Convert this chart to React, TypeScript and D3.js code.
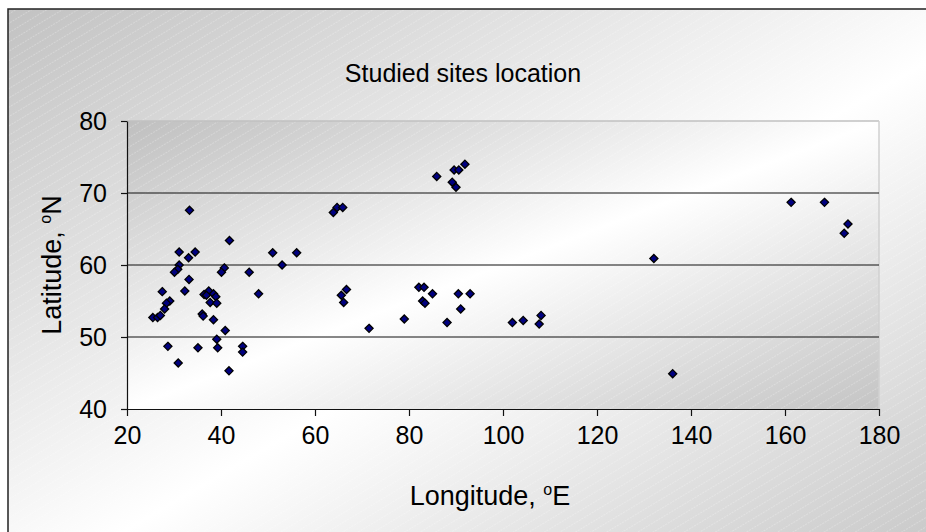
import React, { useEffect, useRef } from 'react';
import * as d3 from 'd3';

// sites: longitude (°E) and latitude (°N)
const lon = [
  33.3, 41.8, 31.1, 34.5, 33.1, 31.1, 30.8, 30.1, 33.2, 40.7, 40.1, 51.0, 56.1, 53.0, 46.0,
  27.5, 32.3, 37.4, 36.4, 38.4, 38.9, 37.7, 39.1, 36.9, 48.0, 29.1, 28.4, 28.0, 25.5, 26.5,
  27.1, 36.0, 36.2, 38.4, 40.9, 39.1, 39.3, 28.7, 35.1, 44.6, 44.6, 30.9, 41.7,
  63.9, 64.7, 65.9, 85.9, 89.6, 90.6, 91.9, 89.2, 90.0,
  66.7, 65.6, 66.1, 71.5, 79.0, 82.1, 83.2, 85.0, 82.9, 83.4, 88.1, 90.5, 93.0, 91.0,
  102.0, 104.3, 108.1, 107.7, 132.1, 136.1, 161.3, 168.4, 173.4, 172.6,
];
const lat = [
  67.6, 63.4, 61.8, 61.8, 61.0, 60.0, 59.4, 59.0, 58.0, 59.6, 59.0, 61.7, 61.7, 60.0, 59.0,
  56.3, 56.4, 56.4, 55.9, 56.0, 55.6, 54.8, 54.7, 55.8, 56.0, 55.0, 54.7, 53.9, 52.7, 52.7,
  53.0, 53.2, 52.9, 52.4, 50.9, 49.7, 48.5, 48.7, 48.5, 48.7, 47.9, 46.4, 45.3,
  67.3, 68.0, 68.0, 72.3, 73.2, 73.2, 74.0, 71.5, 70.8,
  56.6, 55.8, 54.8, 51.2, 52.5, 56.9, 56.9, 56.0, 55.0, 54.7, 52.0, 56.0, 56.0, 53.9,
  52.0, 52.3, 53.0, 51.8, 60.9, 44.9, 68.7, 68.7, 65.7, 64.4,
];
const xTicks = [20, 40, 60, 80, 100, 120, 140, 160, 180];
const yTicks = [40, 50, 60, 70, 80];
const gridLat = [50, 60, 70];

const W = 926;
const H = 532;
const FONT = '"Liberation Sans", Arial, sans-serif';

export default function App() {
  const svgRef = useRef<SVGSVGElement>(null);

  useEffect(() => {
    if (!svgRef.current) return;
    const svg = d3.select(svgRef.current);
    svg.selectAll('*').remove();

    const x = d3.scaleLinear().domain([20, 180]).range([127, 879]);
    const y = d3.scaleLinear().domain([40, 80]).range([409, 121]);

    const defs = svg.append('defs');
    const grad = (id: string, c0: string, c1: string) => {
      const g = defs.append('linearGradient').attr('id', id)
        .attr('x1', 0).attr('y1', 0).attr('x2', 1).attr('y2', 1);
      g.append('stop').attr('offset', '0%').attr('stop-color', c0);
      g.append('stop').attr('offset', '50%').attr('stop-color', '#ffffff');
      g.append('stop').attr('offset', '100%').attr('stop-color', c1);
    };
    grad('outerBg', '#c2c2c2', '#bdbdbd');
    grad('plotBg', '#bfbfbf', '#c4c4c4');

    const pat = defs.append('pattern').attr('id', 'hatch')
      .attr('patternUnits', 'userSpaceOnUse')
      .attr('width', 12).attr('height', 8)
      .attr('patternTransform', 'rotate(-31)');
    pat.append('line').attr('x1', 0).attr('x2', 12).attr('y1', 0.5).attr('y2', 0.5)
      .attr('stroke', '#ffffff').attr('stroke-opacity', 0.35).attr('stroke-width', 0.7)
      .attr('stroke-dasharray', '2,1');

    // chart area (its right and bottom edges fall outside the picture)
    svg.append('rect').attr('x', 8).attr('y', 9).attr('width', 1010).attr('height', 590)
      .attr('fill', 'url(#outerBg)');
    svg.append('rect').attr('x', 8).attr('y', 9).attr('width', 1010).attr('height', 590)
      .attr('fill', 'url(#hatch)').attr('stroke', '#222').attr('stroke-width', 1.5);

    // plot area
    svg.append('rect').attr('x', x(20)).attr('y', y(80))
      .attr('width', x(180) - x(20)).attr('height', y(40) - y(80))
      .attr('fill', 'url(#plotBg)');
    svg.append('rect').attr('x', x(20)).attr('y', y(80))
      .attr('width', x(180) - x(20)).attr('height', y(40) - y(80))
      .attr('fill', 'url(#hatch)');
    svg.append('line').attr('x1', x(20)).attr('x2', x(180)).attr('y1', y(80)).attr('y2', y(80))
      .attr('stroke', '#c0c0c0').attr('stroke-width', 1.5);
    svg.append('line').attr('x1', x(180)).attr('x2', x(180)).attr('y1', y(80)).attr('y2', y(40))
      .attr('stroke', '#d0d0d0').attr('stroke-width', 1.5);

    svg.append('g').selectAll('line').data(gridLat).enter().append('line')
      .attr('x1', x(20)).attr('x2', x(180))
      .attr('y1', (d) => y(d)).attr('y2', (d) => y(d))
      .attr('stroke', '#111').attr('stroke-width', 1);

    // axes
    const yAxis = svg.append('g').attr('transform', `translate(${x(20)},0)`)
      .call(d3.axisLeft(y).tickValues(yTicks).tickSize(6).tickSizeOuter(0).tickPadding(14));
    const xAxis = svg.append('g').attr('transform', `translate(0,${y(40)})`)
      .call(d3.axisBottom(x).tickValues(xTicks).tickSize(7).tickSizeOuter(0).tickPadding(10));
    [yAxis, xAxis].forEach((a) => {
      a.select('.domain').attr('stroke', '#111').attr('stroke-width', 1.2);
      a.selectAll('.tick line').attr('stroke', '#111').attr('stroke-width', 1.2);
      a.selectAll('.tick text').attr('fill', '#000')
        .style('font-family', FONT).style('font-size', '25px');
    });

    // markers
    const diamond = d3.symbol().type(d3.symbolDiamond2).size(42);
    svg.append('g').selectAll('path').data(lon.map((v, i) => [v, lat[i]])).enter()
      .append('path')
      .attr('d', diamond)
      .attr('transform', (d) => `translate(${x(d[0])},${y(d[1])})`)
      .attr('fill', '#000080').attr('stroke', '#000').attr('stroke-width', 1.3);

    // titles
    svg.append('text').attr('x', 463).attr('y', 82).attr('text-anchor', 'middle')
      .style('font-family', FONT).style('font-size', '25px').text('Studied sites location');

    const xt = svg.append('text').attr('x', 490).attr('y', 505).attr('text-anchor', 'middle')
      .style('font-family', FONT).style('font-size', '27px');
    xt.append('tspan').text('Longitude, ');
    xt.append('tspan').attr('dy', -10).style('font-size', '16px').text('o');
    xt.append('tspan').attr('dy', 10).text('E');

    const yt = svg.append('text')
      .attr('transform', `translate(61,${y(60)}) rotate(-90)`).attr('text-anchor', 'middle')
      .style('font-family', FONT).style('font-size', '27px');
    yt.append('tspan').text('Latitude, ');
    yt.append('tspan').attr('dy', -10).style('font-size', '16px').text('o');
    yt.append('tspan').attr('dy', 10).text('N');
  }, []);

  return (
    <svg ref={svgRef} width={W} height={H} viewBox={`0 0 ${W} ${H}`}
      style={{ position: 'absolute', left: 0, top: 0, display: 'block', background: '#fff' }} />
  );
}
